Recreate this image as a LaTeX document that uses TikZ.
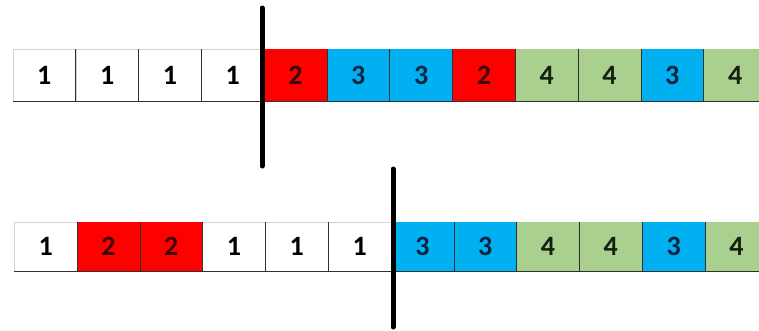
\documentclass[tikz,border=0pt]{standalone}
\usepackage{fontspec}
\setmainfont{Carlito}
\definecolor{cred}{HTML}{FF0000}
\definecolor{cblue}{HTML}{00B0F0}
\definecolor{cgreen}{HTML}{A9D08E}
\definecolor{tred}{HTML}{3A0606}
\definecolor{tblue}{HTML}{0C2440}
\definecolor{tgreen}{HTML}{142010}
\definecolor{gridlt}{HTML}{D4D4D4}
\definecolor{griddk}{HTML}{303030}
\tikzset{
  cellbox/.style={rectangle, anchor=north west, inner sep=0pt, minimum width=62.8pt,
    font=\bfseries\fontsize{28}{28}\selectfont},
  wcell/.style={cellbox, fill=white, draw=gridlt, text=black},
  rcell/.style={cellbox, fill=cred, text=tred},
  bcell/.style={cellbox, fill=cblue, text=tblue},
  gcell/.style={cellbox, fill=cgreen, text=tgreen},
  sepline/.style={draw=griddk, line width=0.9pt},
  cutline/.style={draw=black, line width=5pt, line cap=round}
}
\begin{document}
\begin{tikzpicture}[x=1pt,y=-1pt]
\useasboundingbox (0,0) rectangle (759,330);
\clip (0,0) rectangle (759,330);
% top row
\foreach \lab/\sty [count=\i] in {1/wcell,1/wcell,1/wcell,1/wcell,2/rcell,3/bcell,3/bcell,2/rcell,4/gcell,4/gcell,3/bcell,4/gcell} {
  \node[\sty, minimum height=52pt] (t\i) at ({12.7+(\i-1)*62.8},49) {\lab};
}
\foreach \i in {1,...,11} \draw[sepline] (t\i.north east) -- (t\i.south east);
\draw[sepline] (t1.south west) -- (t12.south east);
% bottom row
\foreach \lab/\sty [count=\i] in {1/wcell,2/rcell,2/rcell,1/wcell,1/wcell,1/wcell,3/bcell,3/bcell,4/gcell,4/gcell,3/bcell,4/gcell} {
  \node[\sty, minimum height=49pt] (b\i) at ({14+(\i-1)*62.8},222) {\lab};
}
\foreach \i in {1,...,11} \draw[sepline] (b\i.north east) -- (b\i.south east);
\draw[sepline] (b1.south west) -- (b12.south east);
% cut lines
\coordinate (ca) at (262,8);
\coordinate (cb) at (262,166);
\coordinate (cc) at (393,169);
\coordinate (cd) at (393,327);
\draw[cutline] (ca) -- (cb);
\draw[cutline] (cc) -- (cd);
\end{tikzpicture}
\end{document}
